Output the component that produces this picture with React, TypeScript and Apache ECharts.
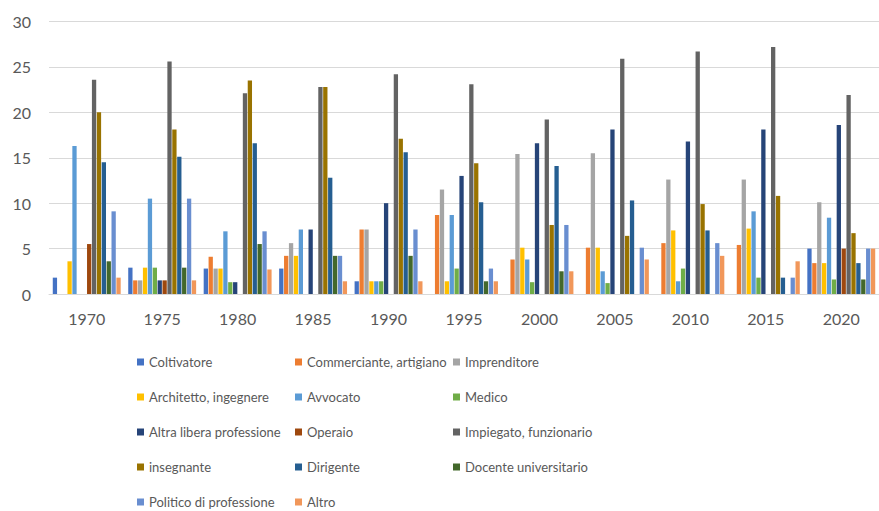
import React, { useEffect, useRef } from "react";
import * as echarts from "echarts";

const years = ["1970", "1975", "1980", "1985", "1990", "1995", "2000", "2005", "2010", "2015", "2020"];

const seriesNames = [
  "Coltivatore",
  "Commerciante, artigiano",
  "Imprenditore",
  "Architetto, ingegnere",
  "Avvocato",
  "Medico",
  "Altra libera professione",
  "Operaio",
  "Impiegato, funzionario",
  "insegnante",
  "Dirigente",
  "Docente universitario",
  "Politico di professione",
  "Altro",
];

const colors = [
  "#4472C4", "#ED7D31", "#A5A5A5", "#FFC000", "#5B9BD5", "#70AD47",
  "#264478", "#9E480E", "#636363", "#997300", "#255E91", "#43682B",
  "#698ED0", "#F1975A",
];

const coltivatore = [1.8, 2.9, 2.8, 2.8, 1.4, 0, 0, 0, 0, 0, 5.0];
const commerciante = [0, 1.5, 4.1, 4.2, 7.1, 8.7, 3.8, 5.1, 5.6, 5.4, 3.4];
const imprenditore = [0, 1.5, 2.8, 5.6, 7.1, 11.5, 15.4, 15.5, 12.6, 12.6, 10.1];
const architetto = [3.6, 2.9, 2.8, 4.2, 1.4, 1.4, 5.1, 5.1, 7.0, 7.2, 3.4];
const avvocato = [16.3, 10.5, 6.9, 7.1, 1.4, 8.7, 3.8, 2.5, 1.4, 9.1, 8.4];
const medico = [0, 2.9, 1.3, 0, 1.4, 2.8, 1.3, 1.2, 2.8, 1.8, 1.6];
const altraLibera = [0, 1.5, 1.3, 7.1, 10.0, 13.0, 16.6, 18.1, 16.8, 18.1, 18.6];
const operaio = [5.5, 1.5, 0, 0, 0, 0, 0, 0, 0, 0, 5.0];
const impiegato = [23.6, 25.6, 22.1, 22.8, 24.2, 23.1, 19.2, 25.9, 26.7, 27.2, 21.9];
const insegnante = [20.0, 18.1, 23.5, 22.8, 17.1, 14.4, 7.6, 6.4, 9.9, 10.8, 6.7];
const dirigente = [14.5, 15.1, 16.6, 12.8, 15.6, 10.1, 14.1, 10.3, 7.0, 1.8, 3.4];
const docente = [3.6, 2.9, 5.5, 4.2, 4.2, 1.4, 2.5, 0, 0, 0, 1.6];
const politico = [9.1, 10.5, 6.9, 4.2, 7.1, 2.8, 7.6, 5.1, 5.6, 1.8, 5.0];
const altro = [1.8, 1.5, 2.7, 1.4, 1.4, 1.4, 2.5, 3.8, 4.2, 3.6, 5.0];

const allData = [
  coltivatore, commerciante, imprenditore, architetto, avvocato, medico,
  altraLibera, operaio, impiegato, insegnante, dirigente, docente, politico, altro,
];

const legendCol1 = [seriesNames[0], seriesNames[3], seriesNames[6], seriesNames[9], seriesNames[12]];
const legendCol2 = [seriesNames[1], seriesNames[4], seriesNames[7], seriesNames[10], seriesNames[13]];
const legendCol3 = [seriesNames[2], seriesNames[5], seriesNames[8], seriesNames[11]];

const FONT = "Lato, 'Noto Sans', sans-serif";
const TEXT = "#595959";

export default function App() {
  const ref = useRef<HTMLDivElement>(null);
  useEffect(() => {
    document.body.style.margin = "0";
    if (!ref.current) return;
    const chart = echarts.init(ref.current, null, { renderer: "svg" });
    const mkLegend = (left: number, data: string[]) => ({
      orient: "vertical",
      left,
      top: 355,
      itemWidth: 7,
      itemHeight: 7,
      itemGap: 21,
      icon: "rect",
      padding: 0,
      selectedMode: false,
      data,
      textStyle: { color: TEXT, fontSize: 13, fontFamily: FONT, lineHeight: 14 },
    });
    chart.setOption({
      animation: false,
      color: colors,
      textStyle: { fontFamily: FONT },
      grid: { left: 49, top: 21.5, width: 838, height: 272.5, containLabel: false },
      legend: [mkLegend(137, legendCol1), mkLegend(295, legendCol2), mkLegend(453, legendCol3)],
      xAxis: {
        type: "category",
        data: years,
        axisLine: { lineStyle: { color: "#d9d9d9" } },
        axisTick: { show: false },
        axisLabel: { color: TEXT, fontSize: 16, fontFamily: FONT, margin: 16 },
      },
      yAxis: {
        type: "value",
        min: 0,
        max: 30,
        interval: 5,
        axisLine: { show: false },
        axisTick: { show: false },
        splitLine: { lineStyle: { color: "#d9d9d9" } },
        axisLabel: { color: TEXT, fontSize: 16, fontFamily: FONT, margin: 18 },
      },
      series: seriesNames.map((name, i) => ({
        name,
        type: "bar",
        data: allData[i],
        barCategoryGap: "10%",
        barGap: "14%",
        itemStyle: { color: colors[i] },
      })),
    });
    return () => chart.dispose();
  }, []);
  return (
    <div
      ref={ref}
      style={{ position: "absolute", left: 0, top: 0, width: 879, height: 511, background: "#fff" }}
    />
  );
}
